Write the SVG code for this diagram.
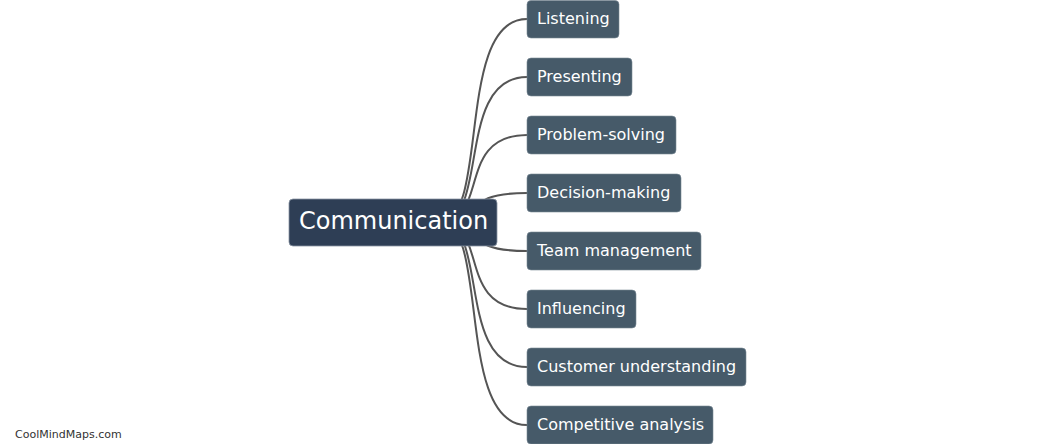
<svg xmlns="http://www.w3.org/2000/svg" width="1047" height="444" viewBox="0 0 1047 444">
<style>
.edge{fill:none;stroke:#555;stroke-width:2}
.child rect{fill:#465a69;stroke:#7a8a96;stroke-width:0.6}
.child text{fill:#fff;font-family:"DejaVu Sans",Verdana,sans-serif;font-size:16px}
.root rect{fill:#2e3e55;stroke:#8a96a3;stroke-width:0.8}
.root text{fill:#fff;font-family:"DejaVu Sans",Verdana,sans-serif;font-size:24px}
.footer{fill:#333;font-family:"DejaVu Sans",Verdana,sans-serif;font-size:11px}
</style>
<rect width="1047" height="444" fill="#fff"/>
<g id="connectors">
<path class="edge" d="M440 222 C490 222 455 19 527 19"/>
<path class="edge" d="M440 222 C490 222 455 77 527 77"/>
<path class="edge" d="M440 222 C490 222 455 135 527 135"/>
<path class="edge" d="M440 222 C490 222 455 193 527 193"/>
<path class="edge" d="M440 222 C490 222 455 251 527 251"/>
<path class="edge" d="M440 222 C490 222 455 309 527 309"/>
<path class="edge" d="M440 222 C490 222 455 367 527 367"/>
<path class="edge" d="M440 222 C490 222 455 425 527 425"/>
</g>
<g id="root" class="root">
<rect x="289" y="199" width="208" height="47" rx="4"/>
<text x="299" y="228.5">Communication</text>
</g>
<g id="n1" class="child"><rect x="527" y="0.5" width="92" height="37.5" rx="4"/><text x="537" y="24">Listening</text></g>
<g id="n2" class="child"><rect x="527" y="58" width="105" height="38" rx="4"/><text x="537" y="82">Presenting</text></g>
<g id="n3" class="child"><rect x="527" y="116" width="149" height="38" rx="4"/><text x="537" y="140">Problem-solving</text></g>
<g id="n4" class="child"><rect x="527" y="174" width="154" height="38" rx="4"/><text x="537" y="198">Decision-making</text></g>
<g id="n5" class="child"><rect x="527" y="232" width="174" height="38" rx="4"/><text x="537" y="256">Team management</text></g>
<g id="n6" class="child"><rect x="527" y="290" width="109" height="38" rx="4"/><text x="537" y="314">Influencing</text></g>
<g id="n7" class="child"><rect x="527" y="348" width="219" height="38" rx="4"/><text x="537" y="372">Customer understanding</text></g>
<g id="n8" class="child"><rect x="527" y="406" width="186" height="38" rx="4"/><text x="537" y="430">Competitive analysis</text></g>
<text class="footer" x="15" y="437.5">CoolMindMaps.com</text>
</svg>
